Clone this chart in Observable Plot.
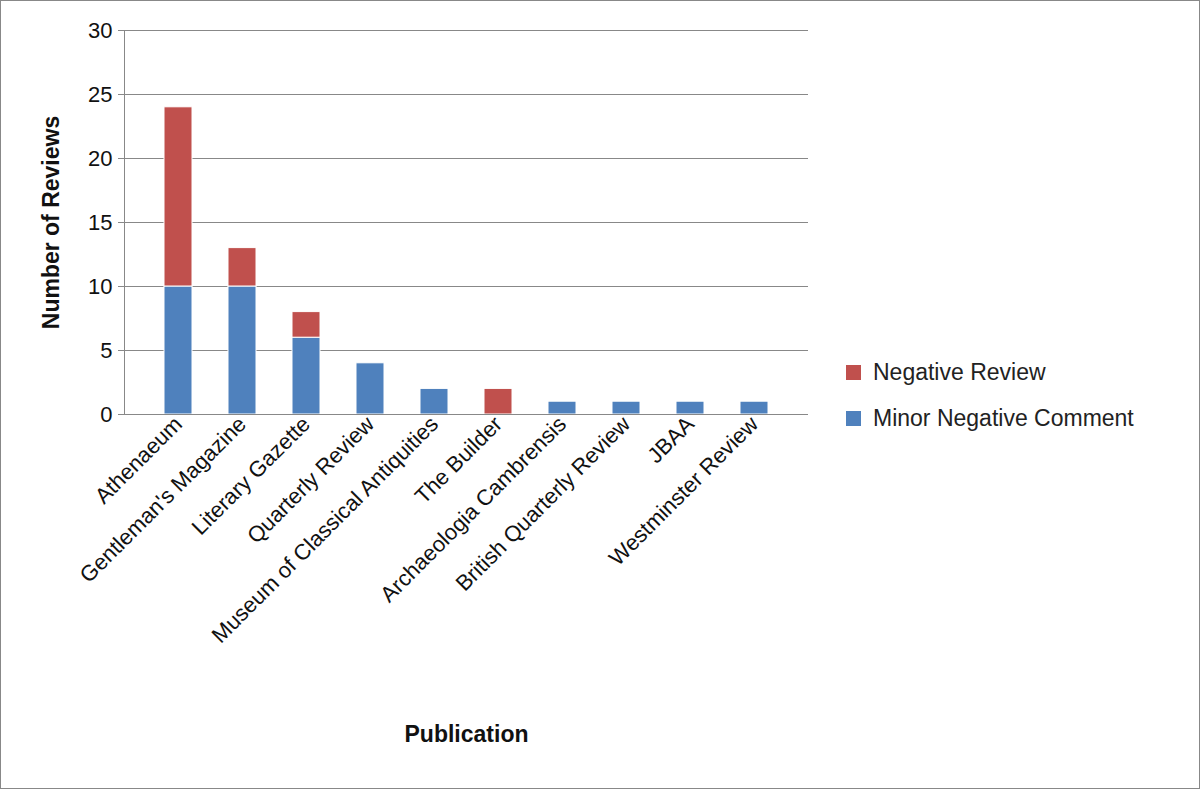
<!DOCTYPE html>
<html><head><meta charset="utf-8">
<script src="https://cdn.jsdelivr.net/npm/d3@7"></script>
<script src="https://cdn.jsdelivr.net/npm/@observablehq/plot@0.6"></script>
<style>
body{margin:0;background:#fff;font-family:"Liberation Sans",Arial,sans-serif}
#wrap{position:relative;width:1198px;height:787px;border:1px solid #888;overflow:hidden}
.leg{position:absolute;left:845px;font-size:23px;display:flex;align-items:center;gap:12px;color:#222}
.sw{width:15px;height:15px;display:inline-block}
</style></head><body>
<div id="wrap">
<div class="leg" style="top:358px"><span class="sw" style="background:#C0504D"></span>Negative Review</div>
<div class="leg" style="top:404px"><span class="sw" style="background:#4F81BD"></span>Minor Negative Comment</div>
</div>
<script>
const publications = ["Athenaeum","Gentleman's Magazine","Literary Gazette","Quarterly Review","Museum of Classical Antiquities","The Builder","Archaeologia Cambrensis","British Quarterly Review","JBAA","Westminster Review"];
const minorNegative = [10,10,6,4,2,0,1,1,1,1];
const negativeReview = [14,3,2,0,0,2,0,0,0,0];
const series = ["Minor Negative Comment","Negative Review"];
const colors = ["#4F81BD","#C0504D"];
const yTicks = [0,5,10,15,20,25,30];

const data = [];
publications.forEach((p,i)=>{
  data.push({pub:p, series:series[0], v:minorNegative[i]});
  data.push({pub:p, series:series[1], v:negativeReview[i]});
});

const chart = Plot.plot({
  width:1198, height:787,
  marginLeft:123, marginRight:391, marginTop:29, marginBottom:374,
  style:{fontFamily:"Liberation Sans, Arial, sans-serif", fontSize:"20px", color:"#111", background:"transparent"},
  x:{domain:publications, padding:0.57, label:null},
  y:{domain:[0,30], ticks:yTicks, label:null},
  color:{domain:series, range:colors},
  marks:[
    Plot.gridY(yTicks,{stroke:"#888",strokeOpacity:1}),
    Plot.barY(data, Plot.stackY({x:"pub", y:"v", fill:"series", order:series, stroke:"white", strokeWidth:1})),
    Plot.ruleY([0],{stroke:"#888"}),
    Plot.frame({anchor:"left", stroke:"#888"}),
    Plot.axisY({ticks:yTicks, tickSize:6, tickPadding:6, fontSize:22, label:null, stroke:"#888"}),
    Plot.axisX({tickRotate:-45, tickSize:0, tickPadding:6, fontSize:22, label:null}),
    Plot.text(["Number of Reviews"],{frameAnchor:"left", dx:-73, rotate:-90, textAnchor:"middle", fontWeight:"bold", fontSize:23}),
    Plot.text(["Publication"],{frameAnchor:"bottom", dy:327, fontWeight:"bold", fontSize:23})
  ]
});
document.getElementById("wrap").appendChild(chart);
</script>
</body></html>
